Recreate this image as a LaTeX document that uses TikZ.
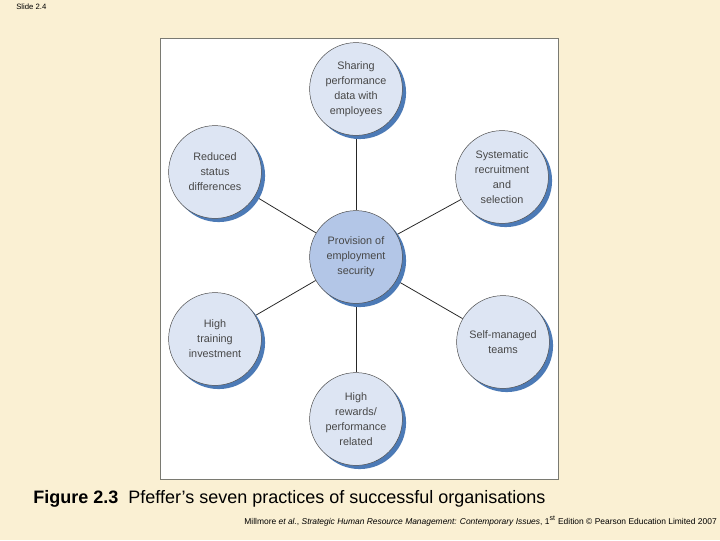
\documentclass[tikz,border=0pt]{standalone}
\usepackage{fontspec}
\setmainfont{Liberation Sans}
\usetikzlibrary{positioning, shadows, backgrounds}
\definecolor{slidecream}{HTML}{FAF0D3}
\definecolor{circlepale}{HTML}{DDE5F3}
\definecolor{circlemid}{HTML}{B3C6E7}
\definecolor{shadowblue}{HTML}{4C7AB6}
\definecolor{textgrey}{HTML}{474747}
\definecolor{panelframe}{HTML}{7A7A72}
\tikzset{
  practice/.style={circle, draw=black!70, line width=0.35pt, fill=circlepale,
    minimum size=66pt, inner sep=0pt, align=center, text=textgrey,
    font=\fontsize{7.7}{10.6}\selectfont,
    drop shadow={shadow xshift=2.6pt, shadow yshift=-2.6pt, fill=shadowblue, opacity=1}},
  hub/.style={practice, fill=circlemid},
  spoke/.style={draw=black!85, line width=0.55pt}
}

\begin{document}
\begin{tikzpicture}[x=0.025cm, y=-0.025cm]
    % slide and figure panel
    \useasboundingbox (0,0) rectangle (720,540);

    % practices
    \node[hub] (security) at (356,257) {Provision of\\employment\\security};
    \node[practice] (sharing) at (356,89) {Sharing\\performance\\data with\\employees};
    \node[practice] (status) at (215,172) {Reduced\\status\\differences};
    \node[practice] (recruit) at (502,177) {Systematic\\recruitment\\and\\selection};
    \node[practice] (training) at (215,339) {High\\training\\investment};
    \node[practice] (teams) at (503,342) {Self-managed\\teams};
    \node[practice] (rewards) at (356,419) {High\\rewards/\\performance\\related};

    \begin{scope}[on background layer]
      \fill[slidecream] (0,0) rectangle (720,540);
      \draw[fill=white, draw=panelframe, line width=0.7pt] (160,38) rectangle (558,479);
      \foreach \p in {sharing, status, recruit, training, teams, rewards}
        \draw[spoke] (security) -- (\p);
    \end{scope}

    % captions
    \node[anchor=west, inner sep=0pt, font=\fontsize{5.5}{6}\selectfont] (slidelabel) at (16,7) {Slide 2.4};
    \node[anchor=west, inner sep=0pt, font=\fontsize{12.8}{14}\selectfont] (caption) at (33,499)
      {\textbf{Figure 2.3}\ \ Pfeffer’s seven practices of successful organisations};
    \node[anchor=east, inner sep=0pt, font=\fontsize{6}{7}\selectfont] (source) at (717,521)
      {Millmore \textit{et al.}, \textit{Strategic Human Resource Management: Contemporary Issues}, 1\textsuperscript{st} Edition © Pearson Education Limited 2007};
\end{tikzpicture}
\end{document}
